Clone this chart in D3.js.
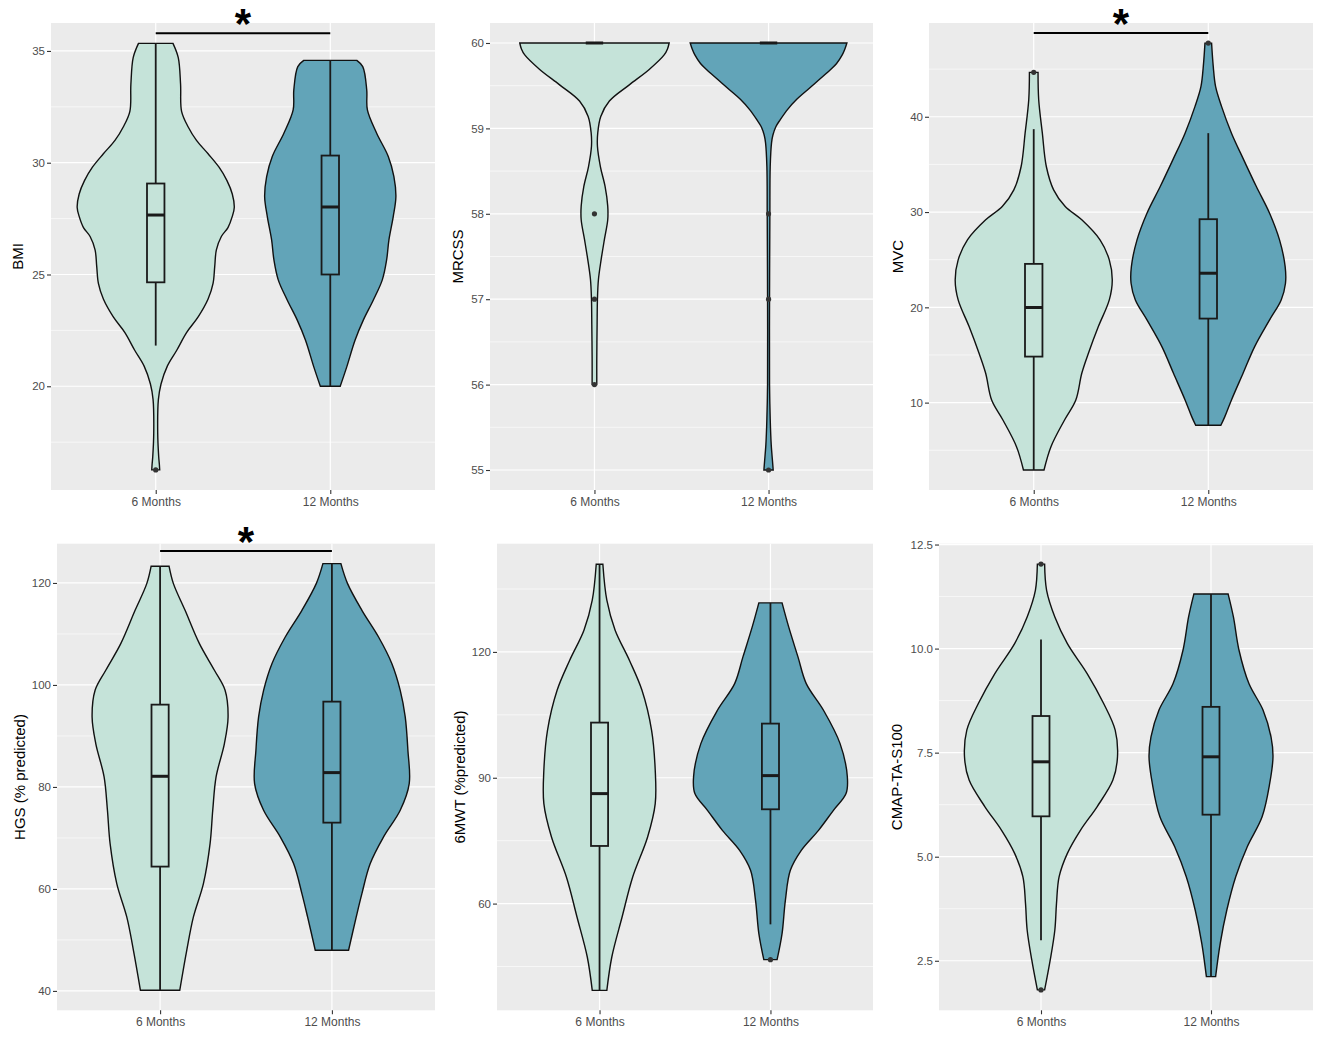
<!DOCTYPE html>
<html><head><meta charset="utf-8">
<script src="https://cdn.jsdelivr.net/npm/d3@7"></script>
<style>
body{margin:0;background:#fff;}
text{font-family:"Liberation Sans",Arial,sans-serif;}
</style></head>
<body><svg id="chart" width="1325" height="1037"></svg>
<script>
// ---------------- DATA ----------------
const groups = ["6 Months", "12 Months"];
const titles = ["BMI", "MRCSS", "MVC", "HGS (% predicted)", "6MWT (%predicted)", "CMAP-TA-S100"];

// BMI
const bmiTicks = [20, 25, 30, 35];
const bmiDomain = [15.36, 36.25];
const bmiDensity6 = [[35.34,52],[34.7,68],[33.5,75],[32.3,78],[31.6,98],[31.0,123],[30.4,158],[29.8,191],[29.2,215],[28.6,231],[28.0,237],[27.6,231],[27.1,218],[26.7,198],[26.1,183],[25.35,178],[24.6,173],[23.9,158],[23.1,128],[22.4,93],[21.6,63],[20.9,35],[20.1,16],[19.4,8],[17.9,6],[16.85,9],[16.5,11],[16.26,12]];
const bmiDensity12 = [[34.58,80],[34.3,98],[33.26,110],[32.36,112],[31.32,140],[30.28,175],[29.38,192],[28.48,198],[27.59,190],[26.55,177],[25.65,170],[24.76,157],[23.86,130],[22.97,100],[22.07,75],[20.88,50],[20.0,30]];
const bmiBox6 = [21.82, 24.65, 27.66, 29.07, 35.34];   // low whisker, q1, median, q3, high whisker
const bmiBox12 = [20.0, 25.0, 28.02, 30.32, 34.58];
const bmiOut6 = [16.26];
const bmiOut12 = [];
const bmiSig = 35.79;

// MRCSS
const mrcssTicks = [55, 56, 57, 58, 59, 60];
const mrcssDomain = [54.766, 60.234];
const mrcssDensity6 = [[60,225],[59.93,220],[59.86,210],[59.69,165],[59.51,105],[59.32,45],[59.14,19],[58.95,10],[58.79,9],[58.55,18],[58.32,32],[58.09,40],[57.93,40],[57.7,30],[57.46,20],[57.23,12],[57.0,9],[56.7,8],[56.3,7],[56.0,7]];
const mrcssDensity12 = [[60,236],[59.93,230],[59.86,222],[59.76,205],[59.69,187],[59.57,152],[59.45,117],[59.34,85],[59.22,57],[59.1,35],[59.02,22],[58.92,13],[58.83,9],[58.55,5],[58.0,4],[57.0,3],[56.0,3],[55.6,5],[55.3,8],[55.1,12],[55.0,14]];
const mrcssBox6 = [60, 60, 60, 60, 60];
const mrcssBox12 = [60, 60, 60, 60, 60];
const mrcssOut6 = [58, 57, 56];
const mrcssOut12 = [58, 57, 55];
const mrcssSig = null;

// MVC
const mvcTicks = [10, 20, 30, 40];
const mvcDomain = [0.83, 49.84];
const mvcDensity6 = [[44.66,13],[41.79,15],[38.28,26],[34.78,38],[32.33,60],[30.58,95],[29.18,145],[27.08,200],[24.98,228],[22.88,237],[20.78,228],[17.98,195],[15.18,165],[13.08,145],[10.28,127],[8.18,93],[5.38,52],[2.93,31]];
const mvcDensity12 = [[47.73,10],[45.29,15],[43.19,22],[41.09,40],[38.28,70],[35.48,107],[32.68,145],[29.88,185],[27.08,215],[24.28,232],[22.53,233],[20.78,220],[18.68,185],[15.88,140],[13.08,105],[10.28,70],[8.53,50],[7.62,38]];
const mvcBox6 = [2.93, 14.83, 19.98, 24.56, 38.7];
const mvcBox12 = [7.62, 18.82, 23.58, 29.25, 38.28];
const mvcOut6 = [44.66];
const mvcOut12 = [47.73];
const mvcSig = 48.79;

// HGS
const hgsTicks = [40, 60, 80, 100, 120];
const hgsDomain = [36.2, 127.7];
const hgsDensity6 = [[123.27,27],[119.87,40],[114.64,75],[108.1,118],[102.88,163],[98.95,195],[93.73,204],[88.5,193],[81.96,168],[75.42,158],[68.89,150],[61.05,130],[54.51,100],[47.97,80],[40.13,59]];
const hgsDensity12 = [[123.79,27],[119.87,47],[114.64,90],[109.41,140],[104.18,180],[98.95,205],[93.73,220],[87.19,228],[80.65,232],[75.42,205],[70.2,155],[64.97,115],[59.08,90],[54.51,73],[47.97,50]];
const hgsBox6 = [40.13, 64.38, 82.09, 96.14, 123.27];
const hgsBox12 = [47.97, 73.0, 82.81, 96.73, 123.79];
const hgsOut6 = [];
const hgsOut12 = [];
const hgsSig = 126.27;

// 6MWT
const mwtTicks = [60, 90, 120];
const mwtDomain = [34.56, 145.8];
const mwtDensity6 = [[140.9,10],[132.32,22],[125.17,47],[118.01,90],[110.86,128],[101.32,157],[91.78,168],[83.83,168],[75.88,145],[66.34,100],[56.8,68],[47.27,37],[39.32,22]];
const mwtDensity12 = [[131.69,35],[125.96,55],[118.81,83],[112.45,108],[106.09,160],[98.14,210],[90.19,232],[86.22,228],[82.24,190],[77.47,145],[72.7,93],[67.93,60],[60.78,45],[52.83,35],[46.63,20]];
const mwtBox6 = [39.32, 73.74, 86.22, 103.15, 140.9];
const mwtBox12 = [55.05, 82.48, 90.51, 102.91, 131.69];
const mwtOut6 = [];
const mwtOut12 = [46.63];
const mwtSig = null;

// CMAP-TA-S100
const cmapTicks = [2.5, 5.0, 7.5, 10.0, 12.5];
const cmapDomain = [1.31, 12.52];
const cmapDensity6 = [[12.03,11],[11.4,17],[10.76,42],[10.12,80],[9.4,140],[8.68,190],[8.04,225],[7.4,232],[6.84,218],[6.2,170],[5.64,120],[5.08,80],[4.52,55],[3.88,47],[3.24,42],[2.52,28],[1.8,11]];
const cmapDensity12 = [[11.31,52],[10.76,68],[9.96,85],[9.16,115],[8.52,158],[7.88,182],[7.4,188],[6.76,178],[5.96,155],[5.24,110],[4.52,75],[3.72,48],[2.92,28],[2.12,14]];
const cmapBox6 = [2.99, 5.97, 7.28, 8.38, 10.22];
const cmapBox12 = [2.12, 6.01, 7.40, 8.60, 11.31];
const cmapOut6 = [12.03, 1.8];
const cmapOut12 = [];
const cmapSig = null;

// ---------------- LAYOUT / STYLE ----------------
const colors = ["#C5E3D9", "#62A4B8"];
const layout = [
  {x0: 51,  x1: 435,  y0: 23,    y1: 490,    tx: 17,  fmt: d3.format("d")},
  {x0: 490, x1: 873,  y0: 23,    y1: 490,    tx: 457, fmt: d3.format("d")},
  {x0: 929, x1: 1313, y0: 23,    y1: 490,    tx: 897, fmt: d3.format("d")},
  {x0: 57,  x1: 435,  y0: 543.7, y1: 1010.3, tx: 19,  fmt: d3.format("d")},
  {x0: 497, x1: 873,  y0: 543.7, y1: 1010.3, tx: 459, fmt: d3.format("d")},
  {x0: 939, x1: 1313, y0: 543.7, y1: 1010.3, tx: 896, fmt: d3.format(".1f")}
];
const panelData = [
  {ticks: bmiTicks, domain: bmiDomain, dens: [bmiDensity6, bmiDensity12], box: [bmiBox6, bmiBox12], out: [bmiOut6, bmiOut12], sig: bmiSig},
  {ticks: mrcssTicks, domain: mrcssDomain, dens: [mrcssDensity6, mrcssDensity12], box: [mrcssBox6, mrcssBox12], out: [mrcssOut6, mrcssOut12], sig: mrcssSig},
  {ticks: mvcTicks, domain: mvcDomain, dens: [mvcDensity6, mvcDensity12], box: [mvcBox6, mvcBox12], out: [mvcOut6, mvcOut12], sig: mvcSig},
  {ticks: hgsTicks, domain: hgsDomain, dens: [hgsDensity6, hgsDensity12], box: [hgsBox6, hgsBox12], out: [hgsOut6, hgsOut12], sig: hgsSig},
  {ticks: mwtTicks, domain: mwtDomain, dens: [mwtDensity6, mwtDensity12], box: [mwtBox6, mwtBox12], out: [mwtOut6, mwtOut12], sig: mwtSig},
  {ticks: cmapTicks, domain: cmapDomain, dens: [cmapDensity6, cmapDensity12], box: [cmapBox6, cmapBox12], out: [cmapOut6, cmapOut12], sig: cmapSig}
];

const svg = d3.select("#chart");
svg.append("rect").attr("width", 1325).attr("height", 1037).attr("fill", "#fff");

panelData.forEach((pd, i) => {
  const L = layout[i];
  const g = svg.append("g");
  const x = d3.scalePoint().domain(groups).range([L.x0, L.x1]).padding(0.6);
  const y = d3.scaleLinear().domain(pd.domain).range([L.y1, L.y0]);
  const step = x.step();

  // panel background
  g.append("rect").attr("x", L.x0).attr("y", L.y0).attr("width", L.x1 - L.x0).attr("height", L.y1 - L.y0).attr("fill", "#EBEBEB");

  // minor grid
  const t = pd.ticks, d = t[1] - t[0];
  const minors = [t[0] - d / 2].concat(t.map(v => v + d / 2)).filter(v => v >= pd.domain[0] && v <= pd.domain[1]);
  g.selectAll(".minor").data(minors).join("line")
    .attr("x1", L.x0).attr("x2", L.x1).attr("y1", v => y(v)).attr("y2", v => y(v))
    .attr("stroke", "#fff").attr("stroke-width", 0.6);
  // major grid
  g.selectAll(".major").data(t.filter(v => v >= pd.domain[0] && v <= pd.domain[1])).join("line")
    .attr("x1", L.x0).attr("x2", L.x1).attr("y1", v => y(v)).attr("y2", v => y(v))
    .attr("stroke", "#fff").attr("stroke-width", 1.2);
  g.selectAll(".vmajor").data(groups).join("line")
    .attr("x1", c => x(c)).attr("x2", c => x(c)).attr("y1", L.y0).attr("y2", L.y1)
    .attr("stroke", "#fff").attr("stroke-width", 1.2);

  // axes
  const yAxis = d3.axisLeft(y).tickValues(t).tickFormat(L.fmt).tickSize(4).tickPadding(2);
  const ya = g.append("g").attr("transform", `translate(${L.x0},0)`).call(yAxis);
  const xAxis = d3.axisBottom(x).tickSize(4).tickPadding(3);
  const xa = g.append("g").attr("transform", `translate(0,${L.y1})`).call(xAxis);
  [ya, xa].forEach((a, j) => {
    a.select(".domain").remove();
    a.selectAll(".tick line").attr("stroke", "#333").attr("stroke-width", 1.1);
    a.selectAll(".tick text").attr("fill", "#4D4D4D").style("font-size", j === 0 ? "11.5px" : "12px").style("font-family", "Liberation Sans, Arial, sans-serif");
  });

  // y title
  g.append("text").attr("transform", `translate(${L.tx},${(L.y0 + L.y1) / 2}) rotate(-90)`)
    .attr("text-anchor", "middle").attr("dominant-baseline", "central")
    .style("font-size", "15px").attr("fill", "#000").text(titles[i]);

  // violins
  const maxD = d3.max(pd.dens, s => d3.max(s, p => p[1]));
  const w = d3.scaleLinear().domain([0, maxD]).range([0, 0.45 * step]);
  groups.forEach((grp, k) => {
    const cx = x(grp);
    const area = d3.area()
      .y(p => y(p[0]))
      .x0(p => cx - w(p[1]))
      .x1(p => cx + w(p[1]))
      .curve(d3.curveCatmullRom.alpha(0.5));
    g.append("path").attr("d", area(pd.dens[k]))
      .attr("fill", colors[k]).attr("stroke", "#111").attr("stroke-width", 1.4);
  });

  // boxes
  groups.forEach((grp, k) => {
    const cx = x(grp), b = pd.box[k], bw = 0.1 * step;
    g.append("line").attr("x1", cx).attr("x2", cx).attr("y1", y(b[3])).attr("y2", y(b[4]))
      .attr("stroke", "#1a1a1a").attr("stroke-width", 1.8);
    g.append("line").attr("x1", cx).attr("x2", cx).attr("y1", y(b[1])).attr("y2", y(b[0]))
      .attr("stroke", "#1a1a1a").attr("stroke-width", 1.8);
    g.append("rect").attr("x", cx - bw / 2).attr("width", bw)
      .attr("y", y(b[3])).attr("height", Math.max(0, y(b[1]) - y(b[3])))
      .attr("fill", colors[k]).attr("stroke", "#1a1a1a").attr("stroke-width", 1.8);
    g.append("line").attr("x1", cx - bw / 2).attr("x2", cx + bw / 2).attr("y1", y(b[2])).attr("y2", y(b[2]))
      .attr("stroke", "#1a1a1a").attr("stroke-width", 3);
    g.selectAll(null).data(pd.out[k]).join("circle")
      .attr("cx", cx).attr("cy", v => y(v)).attr("r", 2.6).attr("fill", "#333");
  });

  // significance
  if (pd.sig !== null) {
    const ys = y(pd.sig);
    g.append("line").attr("x1", x(groups[0])).attr("x2", x(groups[1])).attr("y1", ys).attr("y2", ys)
      .attr("stroke", "#000").attr("stroke-width", 2);
    g.append("text").attr("x", (x(groups[0]) + x(groups[1])) / 2).attr("y", ys + 5)
      .attr("text-anchor", "middle").style("font-size", "42px").style("font-weight", "bold")
      .attr("fill", "#000").text("*");
  }
});
</script></body></html>
